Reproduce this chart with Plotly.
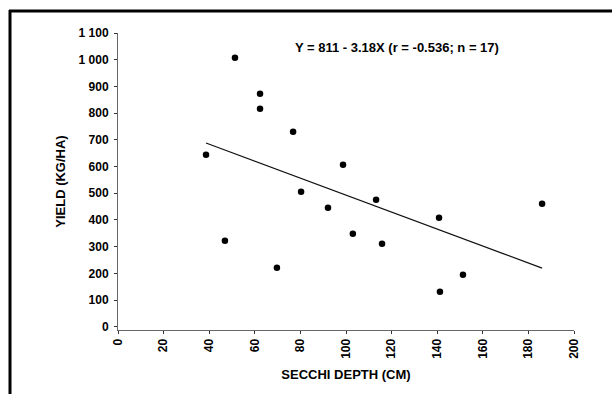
import plotly.graph_objects as go

# Data
secchi_depth = [51.3, 62.3, 62.3, 76.8, 38.6, 98.7, 80.3, 113.2, 46.9, 69.7,
                92.1, 103.0, 115.8, 140.8, 186.0, 151.3, 141.2]
yield_kg_ha = [1007, 873, 816, 730, 644, 607, 506, 476, 322, 221,
               446, 348, 311, 408, 461, 195, 131]

intercept = 811
slope = -3.18
equation_text = "Y = 811 - 3.18X (r = -0.536; n = 17)"

x_ticks = [0, 20, 40, 60, 80, 100, 120, 140, 160, 180, 200]
y_ticks = [0, 100, 200, 300, 400, 500, 600, 700, 800, 900, 1000, 1100]
y_tick_labels = ["0", "100", "200", "300", "400", "500", "600", "700",
                 "800", "900", "1 000", "1 100"]

x_title = "SECCHI DEPTH (CM)"
y_title = "YIELD (KG/HA)"

# Regression line from coefficients
x_line = [min(secchi_depth), max(secchi_depth)]
y_line = [intercept + slope * v for v in x_line]

W, H = 612, 394
L, R, T, B = 118, 38, 33, 64
pw, ph = W - L - R, H - T - B

def px_x(p):
    return (p - L) / pw

def px_y(p):
    return (H - B - p) / ph

font_family = "Liberation Sans, Arial, sans-serif"

fig = go.Figure()
fig.add_trace(go.Scatter(
    x=x_line, y=y_line, mode="lines",
    line=dict(color="#111111", width=1.2),
    hoverinfo="skip", showlegend=False))
fig.add_trace(go.Scatter(
    x=secchi_depth, y=yield_kg_ha, mode="markers",
    marker=dict(color="#000000", size=6.5),
    showlegend=False))

fig.update_layout(
    width=W, height=H,
    margin=dict(l=L, r=R, t=T, b=B, pad=0),
    paper_bgcolor="white", plot_bgcolor="white",
    font=dict(family=font_family, color="black", size=12, weight="bold"),
    xaxis=dict(
        range=[0, 200], tickvals=x_ticks, ticktext=[str(v) for v in x_ticks],
        tickangle=-90, showgrid=False, zeroline=False,
        showline=True, linecolor="#666666", linewidth=1,
        ticks="outside", ticklen=3, tickcolor="#333333",
        tickfont=dict(size=12, family=font_family, weight="bold"),
        title=dict(text=x_title, standoff=12,
                   font=dict(size=13, family=font_family, weight="bold")),
    ),
    yaxis=dict(
        range=[-12, 1100], tickvals=y_ticks, ticktext=y_tick_labels,
        showgrid=False, zeroline=False,
        showline=True, linecolor="#666666", linewidth=1,
        ticks="outside", ticklen=3, tickcolor="#333333",
        ticklabelstandoff=3,
        tickfont=dict(size=12, family=font_family, weight="bold"),
        title=dict(text=y_title, standoff=10,
                   font=dict(size=13, family=font_family, weight="bold")),
    ),
    annotations=[dict(
        text=equation_text, xref="paper", yref="paper",
        x=px_x(397), y=px_y(47), xanchor="center", yanchor="middle",
        showarrow=False,
        font=dict(size=13, family=font_family, color="black", weight="bold"),
    )],
    shapes=[
        dict(type="line", xref="paper", yref="paper",
             x0=px_x(9), x1=px_x(612), y0=px_y(11), y1=px_y(11),
             line=dict(color="black", width=3)),
        dict(type="line", xref="paper", yref="paper",
             x0=px_x(10), x1=px_x(10), y0=px_y(10), y1=px_y(394),
             line=dict(color="black", width=3)),
    ],
)

fig.write_html("out.html")
